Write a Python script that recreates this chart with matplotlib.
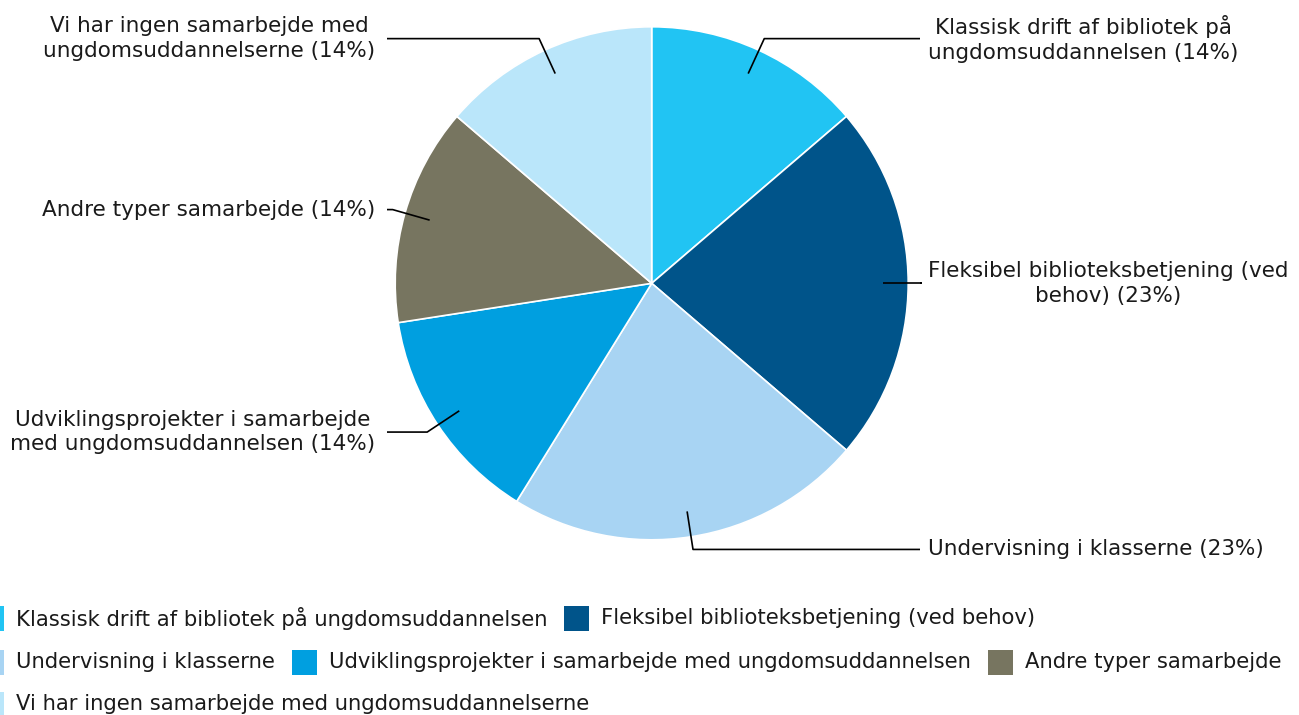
import matplotlib
matplotlib.use("Agg")
import matplotlib.pyplot as plt
from matplotlib.patches import Rectangle
import numpy as np

plt.rcParams['font.family'] = ['DejaVu Sans']

categories = [
    "Klassisk drift af bibliotek på ungdomsuddannelsen",
    "Fleksibel biblioteksbetjening (ved behov)",
    "Undervisning i klasserne",
    "Udviklingsprojekter i samarbejde med ungdomsuddannelsen",
    "Andre typer samarbejde",
    "Vi har ingen samarbejde med ungdomsuddannelserne",
]
values = [14, 23, 23, 14, 14, 14]
label_texts = [
    "Klassisk drift af bibliotek på\nungdomsuddannelsen (14%)",
    "Fleksibel biblioteksbetjening (ved\nbehov) (23%)",
    "Undervisning i klasserne (23%)",
    "Udviklingsprojekter i samarbejde\nmed ungdomsuddannelsen (14%)",
    "Andre typer samarbejde (14%)",
    "Vi har ingen samarbejde med\nungdomsuddannelserne (14%)",
]
colors = ["#21C4F3", "#00548A", "#A8D4F3", "#009FE0", "#777560", "#BAE6FA"]
legend_rows = [[0, 1], [2, 3, 4], [5]]

W, H = 1299, 715
fig = plt.figure(figsize=(W / 100, H / 100), dpi=100)
ax = fig.add_axes([0, 0, 1, 1])
ax.set_xlim(0, W)
ax.set_ylim(0, H)
ax.set_aspect('equal')
ax.axis('off')

cx, cy, R = 651.7, H - 283.3, 256.5
FS_LABEL = 15.45
FS_LEG = 15.25

wedges, _ = ax.pie(values, colors=colors, startangle=90, counterclock=False,
                   center=(cx, cy), radius=R, frame=True,
                   wedgeprops=dict(edgecolor='white', linewidth=1.2))
ax.set_xlim(0, W)
ax.set_ylim(0, H)
ax.axis('off')

for w, txt in zip(wedges, label_texts):
    mid = np.deg2rad((w.theta1 + w.theta2) / 2)
    x0, y0 = cx + 0.9 * R * np.cos(mid), cy + 0.9 * R * np.sin(mid)
    x1, y1 = cx + 1.05 * R * np.cos(mid), cy + 1.05 * R * np.sin(mid)
    if np.cos(mid) >= -1e-6:
        x2, tx, ha = 920, 928, 'left'
    else:
        x2, tx, ha = 387, 375, 'right'
    ax.plot([x0, x1, x2], [y0, y1, y1], color='black', lw=1.2,
            solid_capstyle='butt')
    ax.text(tx, y1, txt, ha=ha, va='center', multialignment='center',
            fontsize=FS_LABEL, color='#1a1a1a', linespacing=1.3)

# legend (flow layout)
fig.canvas.draw()
renderer = fig.canvas.get_renderer()
row_y = [H - 618, H - 662, H - 704]
for ry, row in zip(row_y, legend_rows):
    x = -21
    for i in row:
        ax.add_patch(Rectangle((x, ry - 12.5), 25, 25, facecolor=colors[i],
                               edgecolor='none', clip_on=True))
        t = ax.text(x + 37, ry, categories[i], ha='left', va='center',
                    fontsize=FS_LEG, color='#1a1a1a')
        bb = t.get_window_extent(renderer=renderer)
        x = bb.x1 + 17

fig.savefig("out.png", dpi=100)
